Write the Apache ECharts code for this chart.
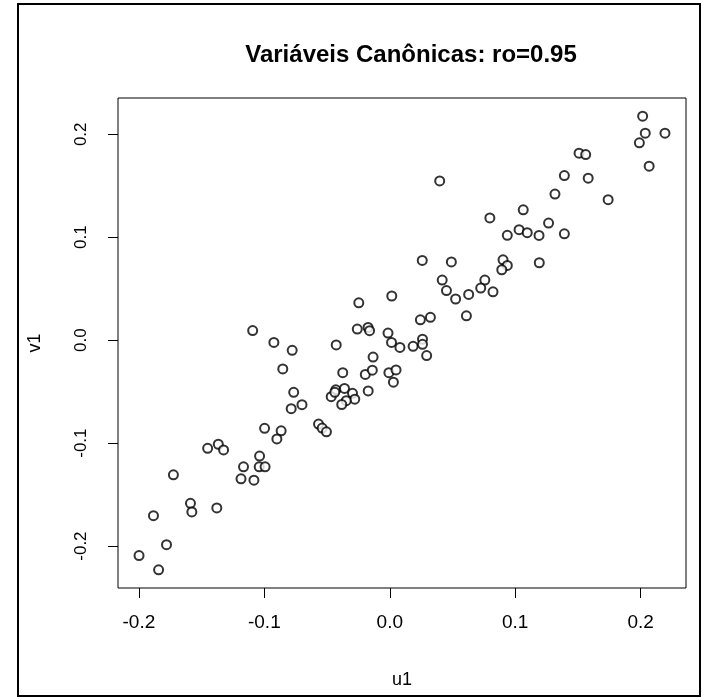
<!DOCTYPE html>
<html>
<head>
<meta charset="utf-8">
<script src="https://cdn.jsdelivr.net/npm/echarts@6/dist/echarts.min.js"></script>
<style>html,body{margin:0;padding:0;background:#fff}#c{width:713px;height:697px}</style>
</head>
<body>
<div id="c"></div>
<script>
const titleText = 'Variáveis Canônicas: ro=0.95';
const xName = 'u1';
const yName = 'v1';
const tickValues = [-0.2, -0.1, 0.0, 0.1, 0.2];
const u1 = [
 -0.1093,-0.0924,-0.0778,-0.0427,-0.0247,0.0016,-0.0259,-0.0173,-0.0161,-0.0014,
 0.0014,0.0081,0.0186,0.0261,0.0261,0.0294,-0.0853,-0.0375,-0.0133,-0.0195,
 -0.0139,-0.0007,0.0050,0.0029,-0.0766,-0.0700,-0.0786,-0.0430,-0.0467,-0.0438,
 -0.0361,-0.0297,-0.0279,-0.0347,-0.0383,-0.0172,-0.0568,-0.0539,-0.0505,-0.0998,
 -0.0866,-0.0900,-0.1452,-0.1367,-0.1325,-0.1038,-0.1166,-0.1041,-0.0994,-0.1186,
 -0.1083,-0.1725,-0.1589,-0.1578,-0.1379,-0.1884,-0.1780,-0.1999,-0.1843,0.2016,
 0.2037,0.2194,0.1990,0.2068,0.1509,0.1562,0.1392,0.1582,0.0398,0.1317,
 0.1741,0.1064,0.0798,0.1266,0.1031,0.1096,0.0937,0.1190,0.1392,0.0259,
 0.0491,0.0903,0.0937,0.0893,0.1192,0.0418,0.0452,0.0525,0.0629,0.0758,
 0.0725,0.0823,0.0611,0.0244,0.0324
];
const v1 = [
 0.0093,-0.0022,-0.0099,-0.0046,0.0363,0.0429,0.0108,0.0124,0.0092,0.0069,
 -0.0022,-0.0071,-0.0060,0.0009,-0.0040,-0.0150,-0.0279,-0.0316,-0.0164,-0.0333,
 -0.0292,-0.0316,-0.0289,-0.0408,-0.0507,-0.0627,-0.0666,-0.0482,-0.0549,-0.0506,
 -0.0469,-0.0516,-0.0573,-0.0588,-0.0625,-0.0493,-0.0815,-0.0854,-0.0890,-0.0856,
 -0.0880,-0.0959,-0.1050,-0.1011,-0.1066,-0.1126,-0.1230,-0.1230,-0.1230,-0.1347,
 -0.1360,-0.1308,-0.1585,-0.1668,-0.1629,-0.1705,-0.1987,-0.2092,-0.2231,0.2176,
 0.2011,0.2011,0.1917,0.1690,0.1816,0.1803,0.1599,0.1573,0.1547,0.1419,
 0.1365,0.1266,0.1187,0.1137,0.1073,0.1044,0.1018,0.1017,0.1033,0.0775,
 0.0760,0.0781,0.0726,0.0684,0.0752,0.0584,0.0482,0.0400,0.0444,0.0584,
 0.0506,0.0470,0.0236,0.0198,0.0222
];

// R-style 4% range extension
function ext(arr) {
  const mn = Math.min(...arr), mx = Math.max(...arr), d = (mx - mn) * 0.04;
  return [mn - d, mx + d];
}
const xr = ext(u1), yr = ext(v1);
const pts = u1.map((x, i) => [x, v1[i]]);
const FONT = 'Liberation Sans, Arial, sans-serif';
const fmt = v => v.toFixed(1);

const chart = echarts.init(document.getElementById('c'), null, {renderer: 'canvas'});
chart.setOption({
  animation: false,
  backgroundColor: '#fff',
  title: {
    text: titleText, left: 406, top: 38, textAlign: 'center',
    textStyle: {fontFamily: FONT, fontWeight: 'bold', fontSize: 24, color: '#000'}
  },
  grid: {left: 118, top: 98, right: 27, bottom: 109, show: true, borderColor: '#000', borderWidth: 1, backgroundColor: 'transparent'},
  xAxis: {
    type: 'value', position: 'bottom', min: xr[0], max: xr[1], splitLine: {show: false},
    name: xName, nameLocation: 'middle', nameGap: 83,
    nameTextStyle: {fontFamily: FONT, fontSize: 18, color: '#000'},
    axisLine: {show: false, onZero: false},
    axisTick: {show: true, inside: false, length: 10, customValues: tickValues, lineStyle: {color: '#000', width: 1}},
    axisLabel: {show: true, customValues: tickValues, margin: 25, formatter: fmt, fontFamily: FONT, fontSize: 19, color: '#000'}
  },
  yAxis: {
    type: 'value', position: 'left', min: yr[0], max: yr[1], splitLine: {show: false},
    name: yName, nameLocation: 'middle', nameGap: 74, nameRotate: 90,
    nameTextStyle: {fontFamily: FONT, fontSize: 18, color: '#000'},
    axisLine: {show: false, onZero: false},
    axisTick: {show: true, inside: false, length: 10, customValues: tickValues, lineStyle: {color: '#000', width: 1}},
    axisLabel: {show: true, customValues: tickValues, margin: 28, rotate: 90, formatter: fmt, fontFamily: FONT, fontSize: 17, color: '#000'}
  },
  series: [{
    type: 'scatter', data: pts, symbol: 'emptyCircle', symbolSize: 9,
    itemStyle: {color: '#000', borderColor: '#000', borderWidth: 1}
  }],
  graphic: [{
    type: 'rect', shape: {x: 18, y: 4, width: 682, height: 692},
    style: {fill: 'none', stroke: '#000', lineWidth: 2}, silent: true
  }]
});
</script>
</body>
</html>
